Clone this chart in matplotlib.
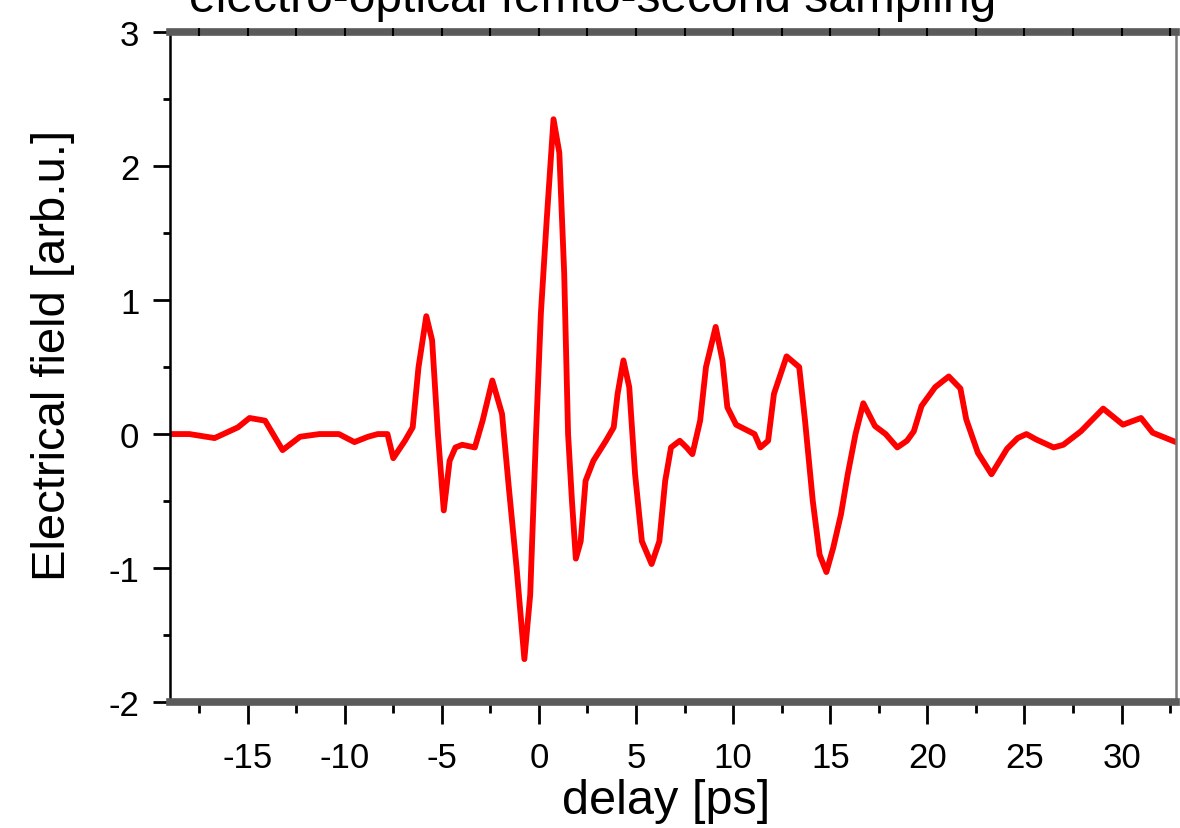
import numpy as np
import matplotlib.pyplot as plt
from matplotlib.ticker import MultipleLocator, NullFormatter

# ---- data (delay in ps, field in arb.u.) ----
delay = [-19.0, -18.0, -16.7, -15.5, -14.9, -14.1, -13.2, -12.3, -11.3, -10.3,
         -9.5, -8.8, -8.3, -7.8, -7.5, -6.9, -6.5, -6.2, -5.8, -5.5,
         -5.2, -4.9, -4.6, -4.3, -3.95, -3.3, -2.9, -2.4, -1.9, -1.55,
         -1.15, -0.75, -0.45, -0.15, 0.1, 0.4, 0.75, 1.05, 1.3, 1.5,
         1.7, 1.9, 2.15, 2.4, 2.8, 3.45, 3.85, 4.05, 4.35, 4.65,
         4.95, 5.3, 5.8, 6.2, 6.5, 6.8, 7.25, 7.6, 7.9, 8.3,
         8.6, 9.1, 9.45, 9.7, 10.15, 11.1, 11.4, 11.8, 12.1, 12.75,
         13.4, 13.7, 14.1, 14.45, 14.8, 15.15, 15.55, 15.9, 16.3, 16.7,
         17.3, 17.85, 18.45, 18.95, 19.3, 19.7, 20.4, 21.1, 21.7, 22.0,
         22.6, 23.3, 24.1, 24.65, 25.1, 25.6, 26.5, 27.0, 27.9, 29.05,
         30.07, 31.0, 31.6, 32.8]
field = [0.0, 0.0, -0.03, 0.05, 0.12, 0.1, -0.12, -0.02, 0.0, 0.0,
         -0.06, -0.02, 0.0, 0.0, -0.18, -0.05, 0.05, 0.5, 0.88, 0.7,
         0.0, -0.57, -0.2, -0.1, -0.08, -0.1, 0.1, 0.4, 0.15, -0.4,
         -1.0, -1.68, -1.2, 0.0, 0.9, 1.6, 2.35, 2.1, 1.2, 0.0,
         -0.5, -0.93, -0.8, -0.35, -0.2, -0.05, 0.05, 0.3, 0.55, 0.35,
         -0.3, -0.8, -0.97, -0.8, -0.35, -0.1, -0.05, -0.1, -0.15, 0.1,
         0.5, 0.8, 0.55, 0.2, 0.07, 0.0, -0.1, -0.05, 0.3, 0.58,
         0.5, 0.1, -0.5, -0.9, -1.03, -0.85, -0.6, -0.3, 0.0, 0.23,
         0.06, 0.0, -0.1, -0.05, 0.02, 0.21, 0.35, 0.43, 0.34, 0.11,
         -0.14, -0.3, -0.11, -0.03, 0.0, -0.04, -0.1, -0.08, 0.02, 0.19,
         0.07, 0.12, 0.01, -0.06]

plt.rcParams['font.family'] = ['Liberation Sans', 'DejaVu Sans']
plt.rcParams['axes.unicode_minus'] = False

fig = plt.figure(figsize=(11.8, 8.29), dpi=100)
ax = fig.add_axes([0.144, 0.152, 0.8526, 0.808])

ax.plot(delay, field, color='#ff0000', lw=4.2,
        solid_joinstyle='round', solid_capstyle='round')

ax.set_xlim(-19, 32.8)
ax.set_ylim(-2, 3)
ax.xaxis.set_major_locator(MultipleLocator(5))
ax.xaxis.set_minor_locator(MultipleLocator(2.5))
ax.yaxis.set_major_locator(MultipleLocator(1))
ax.yaxis.set_minor_locator(MultipleLocator(0.5))

# bottom: outward ticks
ax.tick_params(axis='x', which='major', direction='out', length=16, width=2,
               labelsize=25, pad=12)
ax.tick_params(axis='x', which='minor', direction='out', length=8, width=2)

# top: small marks sitting on the thick spine, no labels
top = ax.twiny()
top.set_xlim(ax.get_xlim())
top.xaxis.set_major_locator(MultipleLocator(2.5))
top.xaxis.set_major_formatter(NullFormatter())
top.tick_params(axis='x', direction='inout', length=6, width=1.5)
for s in top.spines.values():
    s.set_visible(False)

ax.tick_params(axis='y', which='major', direction='out', length=12, width=2,
               labelsize=25, pad=10)
ax.tick_params(axis='y', which='minor', direction='out', length=5, width=2)

for side in ['top', 'bottom']:
    ax.spines[side].set_linewidth(5.5)
    ax.spines[side].set_color('#5a5a5a')
ax.spines['left'].set_linewidth(1.8)
ax.spines['left'].set_color('black')
ax.spines['right'].set_linewidth(1.8)
ax.spines['right'].set_color('#777777')

ax.set_xlabel('delay [ps]', fontsize=35)
ax.xaxis.set_label_coords(0.493, -0.113)
ax.set_ylabel('Electrical field [arb.u.]', fontsize=34)
ax.yaxis.set_label_coords(-0.094, 0.519)

fig.text(0.502, 0.9855, 'electro-optical femto-second sampling', fontsize=34.5,
         ha='center', va='baseline')

fig.savefig('out.png', dpi=100)
